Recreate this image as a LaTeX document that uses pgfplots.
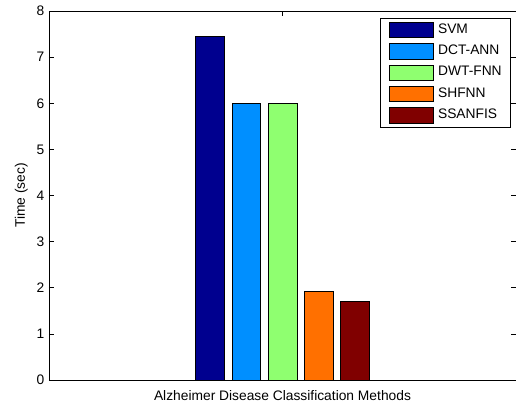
\documentclass[border=0pt]{standalone}
\usepackage{pgfplots}
\pgfplotsset{compat=1.18}
\usepackage{fontspec}
\setmainfont{Liberation Sans}
\definecolor{cSVM}{RGB}{0,0,143}
\definecolor{cDCT}{RGB}{0,143,255}
\definecolor{cDWT}{RGB}{143,255,112}
\definecolor{cSHF}{RGB}{255,112,0}
\definecolor{cSSA}{RGB}{128,0,0}
\begin{document}
\begin{tikzpicture}
\begin{axis}[
  at={(0,0)}, anchor=south west,
  scale only axis, width=467pt, height=369pt,
  xmin=0.5, xmax=1.5, ymin=0, ymax=8,
  xtick={1}, xticklabels={}, ytick={0,1,2,3,4,5,6,7,8},
  tick align=inside, major tick length=5pt,
  tick style={black, line width=0.6pt},
  axis line style={black, line width=0.6pt},
  font=\fontsize{13.8}{16}\selectfont,
  /pgf/number format/assume math mode=true,
  yticklabel style={font=\fontsize{13.8}{16}\selectfont, inner xsep=0pt, xshift=-4.5pt},
  xlabel={Alzheimer Disease Classification Methods},
  xlabel style={at={(axis description cs:0.5,0)}, anchor=base, yshift=-20.7pt, inner sep=0pt},
  ylabel={Time (sec)},
  ylabel style={at={(axis description cs:-0.0514,0.5)}, anchor=base, inner sep=0pt},
  every axis plot/.append style={ybar, bar width=0.062, bar shift=0pt, draw=black, line width=0.6pt},
  legend image code/.code={\draw[#1] (0pt,-7.7pt) rectangle (44pt,7.7pt);},
  legend cell align=left,
  legend style={at={(1,1)}, anchor=north east, xshift=-5pt, yshift=-6.7pt,
    draw=black, line width=0.6pt, fill=white,
    inner xsep=9pt, inner ysep=4pt, row sep=5.3pt,
    font=\fontsize{13.8}{16}\selectfont,
    nodes={inner sep=0pt, text height=9.9pt, text depth=3.4pt},
    /tikz/every even column/.append style={column sep=0pt},
    /tikz/every odd column/.append style={column sep=4.4pt}},
]
\addplot[fill=cSVM] coordinates {(0.845,7.45)};
\addlegendentry{SVM}
\addplot[fill=cDCT] coordinates {(0.9225,6.0)};
\addlegendentry{DCT-ANN}
\addplot[fill=cDWT] coordinates {(1.0,6.0)};
\addlegendentry{DWT-FNN}
\addplot[fill=cSHF] coordinates {(1.0775,1.93)};
\addlegendentry{SHFNN}
\addplot[fill=cSSA] coordinates {(1.155,1.70)};
\addlegendentry{SSANFIS}
\coordinate (bl) at (rel axis cs:0,0);
\end{axis}
\pgfresetboundingbox
\path[use as bounding box] (bl) ++(-49pt,-25pt) rectangle ++(516pt,405pt);
\end{tikzpicture}
\end{document}
